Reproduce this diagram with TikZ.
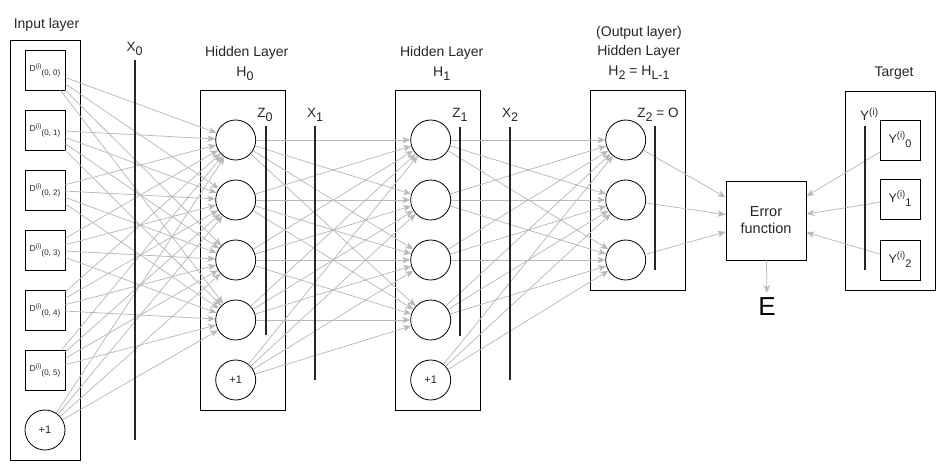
\documentclass[tikz,border=0pt]{standalone}
\usepackage{fontspec}
\setmainfont{Liberation Sans}
\usetikzlibrary{arrows.meta}
\newcommand\fsz[1]{\fontsize{#1}{#1}\selectfont}
\newcommand\sbt[2][12.5]{\raisebox{-4pt}{\fsz{#1}#2}}
\newcommand\dlab[1]{\fsz{8.5}D\raisebox{3.8pt}{\fsz{6.5}(i)}\raisebox{-3.2pt}{\fsz{8}(0, #1)}}
\newcommand\ylab[1]{\fsz{12.5}Y\raisebox{5pt}{\fsz{9.5}(i)}\raisebox{-4pt}{\fsz{11}#1}}
\begin{document}
\begin{tikzpicture}[x=1pt,y=-1pt,font=\fsz{14},
  every node/.style={text=black!85,inner sep=0pt},
  layerbox/.style={draw=black,line width=0.8pt},
  neuron/.style={circle,draw=black,line width=0.8pt,minimum size=40pt,inner sep=0pt},
  inbox/.style={draw=black,line width=0.8pt,minimum size=40pt,inner sep=0pt},
  conn/.style={draw=gray!55,line width=0.75pt,-{Stealth[length=8pt,width=6.5pt,inset=2.2pt]}},
  bar/.style={line width=2.2pt,draw=black!85},
  lbl/.style={anchor=base,align=center},
  xlbl/.style={anchor=base,font=\fsz{13.5}}]
\useasboundingbox (0,0) rectangle (947,471);
% layer boxes
\draw[layerbox] (10,40) rectangle (80,460);
\draw[layerbox] (200.7,90) rectangle (285.7,410);
\draw[layerbox] (395.3,90.7) rectangle (480.3,410.7);
\draw[layerbox] (590.7,90) rectangle (685.7,290);
\draw[layerbox] (845.3,91.7) rectangle (935.7,290);
% input nodes
\foreach \i/\y in {0/70,1/130,2/190,3/250,4/310,5/370}
  \node[inbox] (in\i) at (45,\y) {\dlab{\i}};
\node[neuron] (in6) at (45,430) {\fsz{11}+1};
% hidden layer 0
\foreach \i/\y in {1/140,2/200,3/260,4/320}
  \node[neuron] (ha\i) at (235.7,\y) {};
\node[neuron] (ha5) at (235.7,380) {\fsz{11}+1};
% hidden layer 1
\foreach \i/\y in {1/140,2/200,3/260,4/320}
  \node[neuron] (hb\i) at (430.7,\y) {};
\node[neuron] (hb5) at (430.7,380) {\fsz{11}+1};
% output layer
\foreach \i/\y in {1/140,2/200,3/260}
  \node[neuron] (oc\i) at (625.7,\y) {};
% error function
\node[draw=black,line width=0.8pt,minimum width=80pt,minimum height=79pt,align=center,
  font=\fontsize{14.5}{17}\selectfont] (err) at (766,220.5) {Error\\function};
\node[anchor=base,font=\fsz{26},text=black] (E) at (767,315) {E};
% targets
\foreach \i/\y in {0/140,1/199,2/260}
  \node[inbox] (yt\i) at (900,\y) {\ylab{\i}};
% connectors
\foreach \s in {0,...,6}
  \foreach \t in {1,...,4}
    \draw[conn] (in\s) -- (ha\t);
\foreach \s in {1,...,5}
  \foreach \t in {1,...,4}
    \draw[conn] (ha\s) -- (hb\t);
\foreach \s in {1,...,5}
  \foreach \t in {1,...,3}
    \draw[conn] (hb\s) -- (oc\t);
\foreach \s in {1,...,3}
  \draw[conn] (oc\s) -- (err);
\foreach \s in {0,...,2}
  \draw[conn] (yt\s) -- (err);
\draw[conn,shorten >=4pt] (err) -- (E);
% bars
\draw[bar] (135,60) -- (135,440);
\draw[bar] (265.7,126) -- (265.7,335);
\draw[bar] (315.3,126) -- (315.3,380);
\draw[bar] (460.3,126.7) -- (460.3,335.7);
\draw[bar] (510.3,126.7) -- (510.3,380);
\draw[bar] (655.3,126) -- (655.3,270);
\draw[bar] (865.3,126) -- (865.3,270);
% labels
\node[lbl] at (46.5,28) {Input layer};
\node[xlbl] at (134.5,51) {X\sbt{0}};
\node[lbl] at (246.7,56.7) {Hidden Layer};
\node[lbl] at (245,76.7) {H\sbt[12.5]{0}};
\node[xlbl] at (265,117.5) {Z\sbt{0}};
\node[xlbl] at (315,117.5) {X\sbt{1}};
\node[lbl] at (441.7,56.7) {Hidden Layer};
\node[lbl] at (441.7,76) {H\sbt[12.5]{1}};
\node[xlbl] at (460,117.5) {Z\sbt{1}};
\node[xlbl] at (510,117.5) {X\sbt{2}};
\node[lbl] at (639,36.7) {(Output layer)};
\node[lbl] at (639,55.5) {Hidden Layer};
\node[lbl] at (639,75) {H\sbt[12.5]{2} = H\sbt[12.5]{L-1}};
\node[xlbl] at (658,117) {Z\sbt{2} = O};
\node[lbl] at (894,76.7) {Target};
\node[anchor=base west,font=\fsz{13.5}] at (860,120) {Y\raisebox{5pt}{\fsz{10}(i)}};
\end{tikzpicture}
\end{document}
